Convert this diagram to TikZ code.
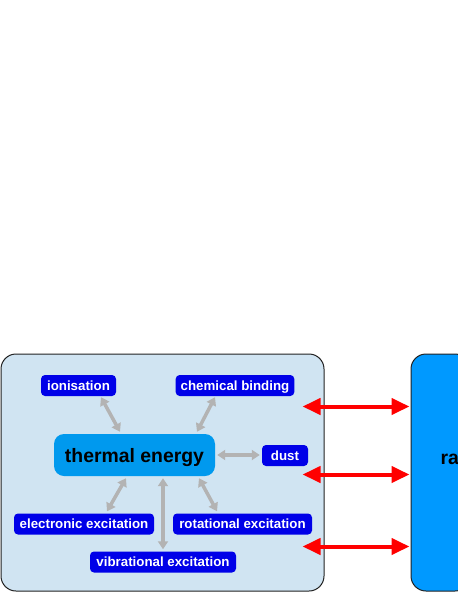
\documentclass[tikz,border=0pt]{standalone}
\usepackage{fontspec}
\setmainfont{Liberation Sans}
\usetikzlibrary{arrows.meta,calc}
\definecolor{panelblue}{HTML}{D0E4F2}
\definecolor{chipblue}{HTML}{0000E8}
\definecolor{coreblue}{HTML}{0099EE}
\definecolor{radblue}{HTML}{0099FF}
\definecolor{arrowgray}{HTML}{B3B3B3}
\definecolor{edgedark}{HTML}{222222}
\tikzset{
  x=1pt, y=-1pt,
  panel/.style={draw=edgedark, line width=1pt, rounded corners=15pt, inner sep=0pt},
  chip/.style={fill=chipblue, text=white, font=\fontsize{13.3}{15}\selectfont\bfseries,
    rounded corners=4pt, minimum height=21pt, inner xsep=5pt, inner ysep=0pt,
    text height=9.6pt, text depth=0pt},
  core/.style={fill=coreblue, text=black, font=\fontsize{19.4}{22}\selectfont\bfseries,
    rounded corners=10pt, minimum height=42pt, minimum width=161pt, inner sep=0pt,
    text height=14pt, text depth=0pt},
  grayarrow/.style={draw=arrowgray, line width=3.5pt,
    {Triangle[length=8pt,width=10pt]}-{Triangle[length=8pt,width=10pt]}},
  redarrow/.style={draw=red, line width=4pt,
    {Triangle[length=18pt,width=16pt]}-{Triangle[length=18pt,width=16pt]}},
}
\begin{document}
\begin{tikzpicture}
\useasboundingbox (0,0) rectangle (458,592);
\clip (0,0) rectangle (458,592);
\node[panel, fill=panelblue, minimum width=323pt, minimum height=237pt] (heat) at (162.5,472.5) {};
\node[panel, fill=radblue, minimum width=59pt, minimum height=237pt] (rad) at (440.5,472.5) {};
\node[anchor=west, font=\fontsize{19.4}{22}\selectfont\bfseries] (radtext) at (437,458) {radiation};

\node[chip, minimum width=75pt] (ion) at (78.5,385.5) {ionisation};
\node[chip, minimum width=118pt] (chem) at (235,385.5) {chemical binding};
\node[core] (te) at (134.5,455) {thermal energy};
\node[chip, minimum width=46pt] (dust) at (285,455.5) {dust};
\node[chip, minimum width=140pt] (elec) at (84,524) {electronic excitation};
\node[chip, minimum width=139pt] (rot) at (242.5,524) {rotational excitation};
\node[chip, minimum width=146pt] (vib) at (163,562) {vibrational excitation};

\draw[grayarrow] ($(ion.south)+(22.5,1)$) -- ($(te.north)+(-14.5,-2)$);
\draw[grayarrow] ($(chem.south)+(-20,1)$) -- ($(te.north)+(62.5,-2)$);
\draw[grayarrow] ($(te.east)+(2,0)$) -- ($(dust.west)+(-2,-0.5)$);
\draw[grayarrow] ($(te.south)+(-8.5,2)$) -- ($(elec.north)+(23,-2)$);
\draw[grayarrow] ($(te.south)+(28.5,2)$) -- ($(vib.north)+(0,-2)$);
\draw[grayarrow] ($(te.south)+(64.5,2)$) -- ($(rot.north)+(-25.5,-2)$);

\draw[redarrow] ($(heat.east)+(-22,-66)$) -- ($(rad.west)+(-1,-66)$);
\draw[redarrow] ($(heat.east)+(-22,2)$) -- ($(rad.west)+(-1,2)$);
\draw[redarrow] ($(heat.east)+(-22,74)$) -- ($(rad.west)+(-1,74)$);
\end{tikzpicture}
\end{document}
